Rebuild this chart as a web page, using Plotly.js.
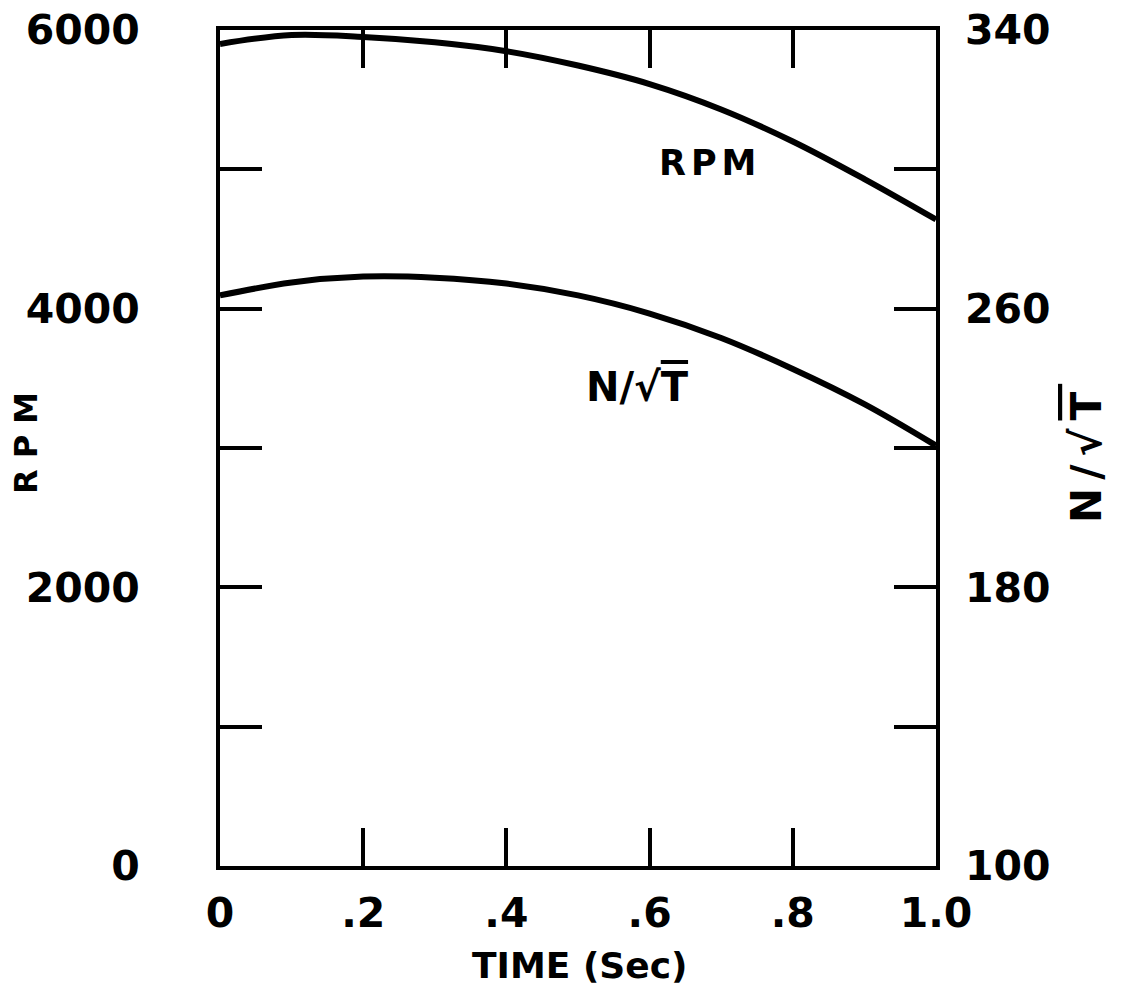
<!DOCTYPE html>
<html>
<head>
<meta charset="utf-8">
<script src="https://cdn.plot.ly/plotly-3.0.1.min.js"></script>
<style>html,body{margin:0;padding:0;background:#fff;}</style>
</head>
<body>
<div id="chart" style="width:1128px;height:990px;"></div>
<script>
// Data
const time = [0, 0.1, 0.2, 0.3, 0.4, 0.5, 0.6, 0.7, 0.8, 0.9, 1.0];
const rpm = [5900, 5964, 5950, 5912, 5848, 5745, 5612, 5430, 5200, 4930, 4640];
const nOverSqrtT = [263.8, 267.5, 269.2, 268.9, 267.2, 263.8, 258.6, 251.6, 242.7, 232.6, 220.7];

const xTickVals = [0, 0.2, 0.4, 0.6, 0.8, 1.0];
const xTickText = ['0', '.2', '.4', '.6', '.8', '1.0'];
const yTickVals = [0, 1000, 2000, 3000, 4000, 5000, 6000];
const yTickText = ['0', '', '2000', '', '4000', '', '6000'];
const y2TickVals = [100, 180, 260, 340];
const y2TickText = ['100', '180', '260', '340'];

const FONT = 'DejaVu Sans, sans-serif';
const tickFont = {family: FONT, size: 41, color: '#000', weight: 'bold'};

const L = 220, R = 936, T = 30, B = 866, W = 1128, H = 990;
const px = v => (v - L) / (R - L);
const py = v => (B - v) / (B - T);

const traces = [
  {x: time, y: rpm, type: 'scatter', mode: 'lines', line: {color: '#000', width: 6, shape: 'spline', smoothing: 1}, yaxis: 'y', hoverinfo: 'skip'},
  {x: time, y: nOverSqrtT, type: 'scatter', mode: 'lines', line: {color: '#000', width: 6, shape: 'spline', smoothing: 1}, yaxis: 'y2', hoverinfo: 'skip'}
];

const sqrtLabel = 'N/√<span style="text-decoration:overline">T</span>';
const spaced = (t, s) => '<span style="letter-spacing:' + s + 'px">' + t + '</span>';

const layout = {
  width: W, height: H,
  margin: {l: L, r: W - R, t: T, b: H - B, pad: 0},
  paper_bgcolor: '#fff', plot_bgcolor: '#fff',
  showlegend: false,
  xaxis: {
    range: [0, 1], showgrid: false, zeroline: false,
    showline: true, linewidth: 4, linecolor: '#000', mirror: 'ticks',
    ticks: 'inside', ticklen: 38, tickwidth: 4, tickcolor: '#000',
    tickvals: xTickVals, ticktext: xTickText, tickfont: tickFont,
    ticklabelstandoff: 8
  },
  yaxis: {
    range: [0, 6000], showgrid: false, zeroline: false,
    showline: true, linewidth: 4, linecolor: '#000', mirror: 'ticks',
    ticks: 'inside', ticklen: 42, tickwidth: 4, tickcolor: '#000',
    tickvals: yTickVals, ticktext: yTickText, tickfont: tickFont,
    ticklabelstandoff: 68
  },
  yaxis2: {
    range: [100, 340], overlaying: 'y', side: 'right',
    showgrid: false, zeroline: false, showline: false, ticks: '',
    tickvals: y2TickVals, ticktext: y2TickText, tickfont: tickFont,
    ticklabelstandoff: 28
  },
  annotations: [
    {text: spaced('RPM', 11), xref: 'paper', yref: 'paper', x: px(26), y: py(438), textangle: -90,
     showarrow: false, xanchor: 'center', yanchor: 'middle', font: {family: FONT, size: 32, color: '#000', weight: 'bold'}},
    {text: 'TIME (Sec)', xref: 'paper', yref: 'paper', x: px(580), y: py(965),
     showarrow: false, xanchor: 'center', yanchor: 'middle', font: {family: FONT, size: 36, color: '#000', weight: 'bold'}},
    {text: spaced(sqrtLabel, 8), xref: 'paper', yref: 'paper', x: px(1086), y: py(454), textangle: -90,
     showarrow: false, xanchor: 'center', yanchor: 'middle', font: {family: FONT, size: 42, color: '#000', weight: 'bold'}},
    {text: spaced('RPM', 5), xref: 'paper', yref: 'paper', x: px(710), y: py(163),
     showarrow: false, xanchor: 'center', yanchor: 'middle', font: {family: FONT, size: 35, color: '#000', weight: 'bold'}},
    {text: sqrtLabel, xref: 'paper', yref: 'paper', x: px(637), y: py(387),
     showarrow: false, xanchor: 'center', yanchor: 'middle', font: {family: FONT, size: 40, color: '#000', weight: 'bold'}}
  ]
};

Plotly.newPlot('chart', traces, layout, {staticPlot: true, displayModeBar: false});
</script>
</body>
</html>
